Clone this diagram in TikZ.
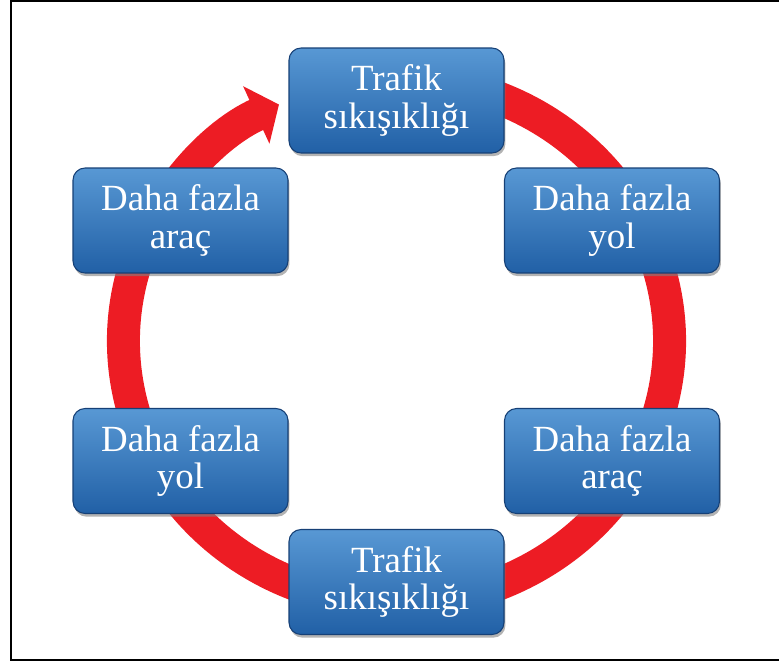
\documentclass[tikz,border=0pt]{standalone}
\usepackage{fontspec}
\setmainfont{Liberation Serif}
\usepackage{tikz}
\usetikzlibrary{arrows.meta,shadows}
\definecolor{ringred}{RGB}{237,28,36}
\definecolor{boxtop}{RGB}{88,152,212}
\definecolor{boxmid}{RGB}{44,114,186}
\definecolor{boxbot}{RGB}{33,96,166}
\definecolor{boxedge}{RGB}{22,64,118}
\tikzset{
  cyclebox/.style={rounded corners=0.24cm, minimum width=4.3cm, minimum height=2.1cm,
    top color=boxtop, middle color=boxmid, bottom color=boxbot, draw=boxedge, line width=0.6pt,
    drop shadow={shadow xshift=0.8pt, shadow yshift=-1.8pt, opacity=0.6},
    text=white, align=center, font=\fontsize{21}{21.5}\selectfont, inner sep=2pt},
  ringline/.style={ringred, line width=0.66cm,
    -{Triangle[length=0.5cm, width=1.24cm]}}
}
\begin{document}
\begin{tikzpicture}[x=0.02cm, y=0.02cm]
\useasboundingbox (0,0) rectangle (779,-664);
\draw [line width=1.2pt] (779,-1) -- (11,-1) -- (11,-660) -- (779,-660);
\coordinate (ring) at (396.5,-341);
\draw [ringline] (ring) ++(70:273 and 262) arc[start angle=70, end angle=-244.5, x radius=273, y radius=262];
\node [cyclebox] (top) at (396.5,-100.5) {Trafik\\sıkışıklığı};
\node [cyclebox] (yolA) at (612,-220.5) {Daha fazla\\yol};
\node [cyclebox] (aracA) at (612,-461) {Daha fazla\\araç};
\node [cyclebox] (bottom) at (396.5,-582) {Trafik\\sıkışıklığı};
\node [cyclebox] (yolB) at (180.5,-461) {Daha fazla\\yol};
\node [cyclebox] (aracB) at (180.5,-220.5) {Daha fazla\\araç};
\end{tikzpicture}
\end{document}
